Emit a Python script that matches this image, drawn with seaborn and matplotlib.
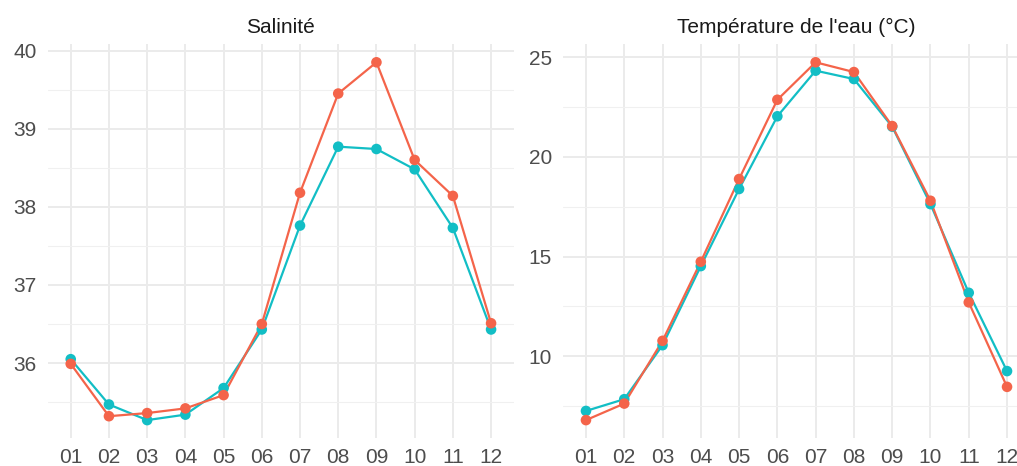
import numpy as np
import pandas as pd
import matplotlib
matplotlib.use("Agg")
import matplotlib.pyplot as plt
import seaborn as sns
from matplotlib.ticker import MultipleLocator

months = ["01", "02", "03", "04", "05", "06", "07", "08", "09", "10", "11", "12"]
series_names = ["Série A", "Série B"]
colors = {"Série A": "#12BEC5", "Série B": "#F4644A"}

sal_a = [36.05, 35.47, 35.27, 35.34, 35.68, 36.43, 37.76, 38.77, 38.74, 38.48, 37.73, 36.43]
sal_b = [35.99, 35.32, 35.36, 35.42, 35.59, 36.50, 38.18, 39.45, 39.85, 38.60, 38.14, 36.51]
temp_a = [7.25, 7.84, 10.55, 14.52, 18.39, 22.04, 24.33, 23.91, 21.52, 17.63, 13.18, 9.25]
temp_b = [6.79, 7.62, 10.77, 14.74, 18.89, 22.87, 24.75, 24.26, 21.55, 17.80, 12.70, 8.46]

panels = [
    ("Salinité", sal_a, sal_b, 1.0, 0.5),
    ("Température de l'eau (°C)", temp_a, temp_b, 5.0, 2.5),
]

sns.set_theme(style="white")
plt.rcParams["font.family"] = ["Liberation Sans", "DejaVu Sans"]

W, H = 1017, 466
fig = plt.figure(figsize=(W / 100, H / 100), dpi=100)
fig.patch.set_facecolor("white")

top_px, bot_px = 44.4, 438.0
boxes = [(47.8, 514.0), (563.0, 1030.0)]

for (title, a, b, major, minor), (x0, x1) in zip(panels, boxes):
    ax = fig.add_axes([x0 / W, 1 - bot_px / H, (x1 - x0) / W, (bot_px - top_px) / H])
    df = pd.DataFrame({
        "mois": months * 2,
        "valeur": list(a) + list(b),
        "serie": [series_names[0]] * 12 + [series_names[1]] * 12,
    })
    sns.lineplot(data=df, x="mois", y="valeur", hue="serie", hue_order=series_names,
                 palette=colors, linewidth=1.6, legend=False, ax=ax, zorder=3,
                 sort=False)
    sns.scatterplot(data=df, x="mois", y="valeur", hue="serie", hue_order=series_names,
                    palette=colors, s=58, linewidth=0, legend=False, ax=ax, zorder=4)
    vals = np.array(list(a) + list(b))
    lo, hi = vals.min(), vals.max()
    pad = 0.05 * (hi - lo)
    ax.set_ylim(lo - pad, hi + pad)
    ax.set_xlim(-0.6, len(months) - 1 + 0.6)
    ax.yaxis.set_major_locator(MultipleLocator(major))
    ax.yaxis.set_minor_locator(MultipleLocator(minor))
    ax.grid(True, which="major", axis="both", color="#EBEBEB", linewidth=1.4, zorder=0)
    ax.grid(True, which="minor", axis="y", color="#F0F0F0", linewidth=0.8, zorder=0)
    ax.set_axisbelow(True)
    for sp in ax.spines.values():
        sp.set_visible(False)
    ax.tick_params(axis="both", which="both", length=0, labelsize=15, labelcolor="#4D4D4D")
    ax.tick_params(axis="x", pad=7)
    ax.tick_params(axis="y", pad=8)
    ax.set_xlabel("")
    ax.set_ylabel("")
    ax.set_title(title, fontsize=15, color="#1A1A1A", pad=8)
    ax.set_facecolor("white")

fig.savefig("out.png", dpi=100, facecolor="white")
